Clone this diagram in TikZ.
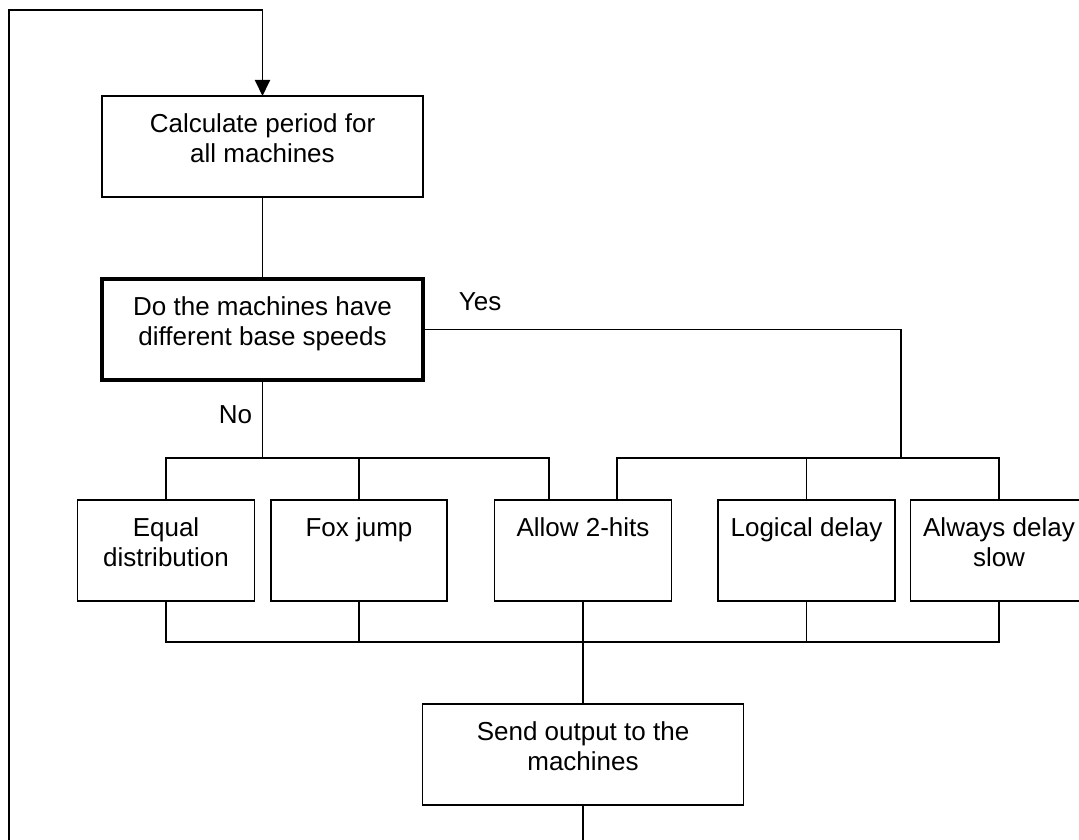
\documentclass[tikz,border=0pt]{standalone}
\usepackage{fontspec}
\setmainfont{Liberation Sans}
\usetikzlibrary{arrows.meta}
\begin{document}
\begin{tikzpicture}[x=1pt,y=-1pt,
  line width=1.9pt,
  every node/.style={font=\fontsize{26}{30}\selectfont},
  box/.style={draw, rectangle, inner sep=0pt, outer sep=0pt, align=center,
    minimum height=101pt, text height=36.5pt, text depth=64.5pt},
  twoline/.style={text height=66.5pt, text depth=34.5pt},
  widebox/.style={box, twoline, minimum width=321pt},
  smallbox/.style={box, minimum width=177pt},
  decision/.style={widebox, line width=3.4pt},
  lbl/.style={inner sep=0pt},
  arr/.style={-{Triangle[length=16pt,width=15pt]}}
]
\useasboundingbox (0,0) rectangle (1079,840);
\clip (0,0) rectangle (1079,840);

\node[widebox] (calc) at (262.5,146.5) {Calculate period for\\all machines};
\node[decision] (decide) at (262.5,329.5) {Do the machines have\\different base speeds};

\node[smallbox, twoline] (eq) at (166,550.5) {Equal\\distribution};
\node[smallbox, minimum width=176pt] (fox) at (359,550.5) {Fox jump};
\node[smallbox] (allow) at (583,550.5) {Allow 2-hits};
\node[smallbox] (logic) at (806.5,550.5) {Logical delay};
\node[smallbox, twoline] (always) at (999,550.5) {Always delay\\slow};

\node[widebox] (send) at (583,754.5) {Send output to the\\machines};

\node[lbl, anchor=base west] (yes) at (458,310) {Yes};
\node[lbl, anchor=base east] (no) at (253,423) {No};

% coordinates
\coordinate (nobus) at (262.5,458);
\coordinate (nl) at (166,458);
\coordinate (nr) at (549,458);
\coordinate (yescol) at (901,458);
\coordinate (yl) at (617,458);
\coordinate (yr) at (999,458);
\coordinate (bl) at (166,642);
\coordinate (br) at (999,642);
\coordinate (loopbot) at (9,880);
\coordinate (looptop) at (9,10);

% main flow
\draw (calc.south) -- (decide.north);
\draw (decide.south) -- (nobus);
\draw (decide.east) -- (decide.east -| yescol) -- (yescol);

% No bus
\draw (eq.north) -- (nl) -- (nr) -- (nr |- allow.north);
\draw (fox.north) -- (fox.north |- nl);

% Yes bus
\draw (allow.north -| yl) -- (yl) -- (yr) -- (always.north);
\draw (logic.north) -- (logic.north |- yl);

% bottom bus
\draw (eq.south) -- (bl) -- (br) -- (always.south);
\draw (fox.south) -- (fox.south |- bl);
\draw (logic.south) -- (logic.south |- bl);
\draw (allow.south) -- (send.north);

% loop back
\draw[arr] (send.south) -- (send.south |- loopbot) -- (loopbot) -- (looptop)
  -- (looptop -| calc.north) -- (calc.north);
\end{tikzpicture}
\end{document}
